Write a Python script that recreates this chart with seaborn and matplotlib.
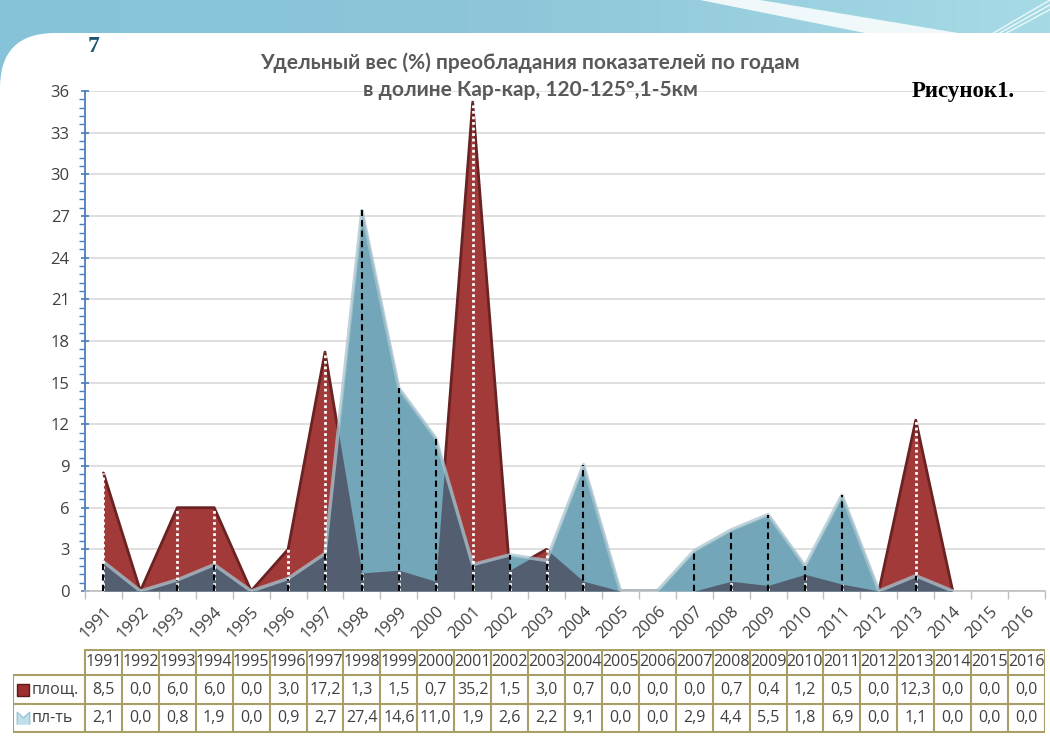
import numpy as np
import pandas as pd
import matplotlib
matplotlib.use("Agg")
import matplotlib.pyplot as plt
from matplotlib.patches import FancyBboxPatch, Polygon
import seaborn as sns

years = [str(y) for y in range(1991, 2017)]
ploshch = [8.5, 0.0, 6.0, 6.0, 0.0, 3.0, 17.2, 1.3, 1.5, 0.7, 35.2, 1.5, 3.0,
           0.7, 0.0, 0.0, 0.0, 0.7, 0.4, 1.2, 0.5, 0.0, 12.3, 0.0, 0.0, 0.0]
pl_t = [2.1, 0.0, 0.8, 1.9, 0.0, 0.9, 2.7, 27.4, 14.6, 11.0, 1.9, 2.6, 2.2,
        9.1, 0.0, 0.0, 2.9, 4.4, 5.5, 1.8, 6.9, 0.0, 1.1, 0.0, 0.0, 0.0]
row_labels = ["площ.", "пл-ть"]
title = "Удельный вес (%) преобладания показателей по годам\nв долине Кар-кар, 120-125°,1-5км"

df = pd.DataFrame({"year": years, "x": np.arange(len(years)),
                   "ploshch": ploshch, "pl_t": pl_t})


def edge_only(vals):
    # hide runs of zeros that are not next to a non-zero point
    v = np.array(vals, dtype=float)
    out = v.copy()
    for i in range(len(v)):
        nb = [v[j] for j in (i - 1, i + 1) if 0 <= j < len(v)]
        if v[i] == 0 and all(n == 0 for n in nb):
            out[i] = np.nan
    return out


df["ploshch_line"] = edge_only(ploshch)
df["pl_t_line"] = edge_only(pl_t)

sns.set_theme(style="white")
plt.rcParams["font.family"] = ["Open Sans", "DejaVu Sans"]

W, H = 1050, 736
fig = plt.figure(figsize=(W / 100, H / 100), dpi=100)


def fx(px):
    return px / W


def fy(py):
    return 1 - py / H


# slide background
bg = fig.add_axes([0, 0, 1, 1], zorder=-10)
bg.set_xlim(0, W)
bg.set_ylim(H, 0)
bg.axis("off")
grad = np.linspace(0, 1, 256).reshape(1, -1)
bg.imshow(grad, extent=[0, W, 120, 0], cmap=matplotlib.colors.LinearSegmentedColormap.from_list(
    "sky", ["#86c3d8", "#8fc6d9", "#a6dbe6"]), aspect="auto")
bg.add_patch(Polygon([[700, 0], [760, 0], [1000, 40], [900, 40]], closed=True,
                     color="white", alpha=0.85, lw=0))
for off in (0, 8, 16):
    bg.plot([930 + off, 1050], [70 - off * 0.3, 0 + off * 0.6], color="white", lw=1, alpha=0.8)
bg.add_patch(FancyBboxPatch((0, 33), W + 60, H, boxstyle="round,pad=0,rounding_size=55",
                            fc="white", ec="none"))

# main chart
ax = fig.add_axes([fx(85), fy(591), fx(1045) - fx(85), fy(91) - fy(591)])
ax.patch.set_alpha(0)
x = df["x"].values
red = df["ploshch"].values
blue = df["pl_t"].values

# overlap of the two areas, following the straight segments between years
xs = np.linspace(x[0], x[-1], 2501)
low = np.minimum(np.interp(xs, x, red), np.interp(xs, x, blue))

ax.fill_between(x, 0, red, color="#a13a39", lw=0, zorder=2)
sns.lineplot(data=df, x="x", y="ploshch_line", ax=ax, color="#6b2222", lw=2, zorder=2.5)
ax.fill_between(x, 0, blue, color="#72a6b8", lw=0, zorder=3)
ax.fill_between(xs, 0, low, color="#535e70", lw=0, zorder=4)
sns.lineplot(data=df, x="x", y="pl_t_line", ax=ax, color="#a9c4cf", lw=2.5, alpha=0.75, zorder=6)

for xi, r, b in zip(x, red, blue):
    if r > 0:
        ax.plot([xi, xi], [0, r], color="white", lw=2, ls=(0, (1, 1)), zorder=7)
    if b > 0:
        ax.plot([xi, xi], [0, b], color="black", lw=1.5, ls=(0, (3, 2)), zorder=8)

ax.set_xlim(-0.5, len(years) - 0.5)
ax.set_ylim(0, 36)
ax.set_yticks(np.arange(0, 37, 3))
ax.set_yticks(np.arange(0, 36.01, 0.6), minor=True)
ax.set_xticks(x)
ax.set_xticklabels(years, rotation=45, ha="right", rotation_mode="anchor",
                   fontsize=12, color="#404040")
ax.set_xticks(np.arange(-0.5, len(years), 1), minor=True)
ax.tick_params(axis="x", which="major", length=0, pad=9)
ax.tick_params(axis="x", which="minor", length=6, color="#bfbfbf", width=1, bottom=True)
ax.tick_params(axis="y", which="major", length=6, color="#4a7ebb", width=1.2,
               labelsize=12, labelcolor="#404040", left=True, direction="inout", pad=8)
ax.tick_params(axis="y", which="minor", length=4, color="#4a7ebb", width=1, left=True)
ax.set_xlabel("")
ax.set_ylabel("")
ax.yaxis.grid(True, color="#d9d9d9", lw=1.2)
ax.set_axisbelow(True)
for s in ("top", "right"):
    ax.spines[s].set_visible(False)
ax.spines["left"].set_color("#4a7ebb")
ax.spines["left"].set_linewidth(1.3)
ax.spines["bottom"].set_color("#bfbfbf")
ax.spines["bottom"].set_linewidth(1.2)

# data table below the axis
unit = (1045 - 85) / len(years)
left_edge = -0.5 - (85 - 13) / unit
tax = fig.add_axes([fx(13), fy(733), fx(1045) - fx(13), fy(649) - fy(733)])
tax.set_xlim(left_edge, len(years) - 0.5)
tax.set_ylim(733, 649)
tax.axis("off")
lc = "#a89f66"
rows_y = [650, 675, 704, 732]
tax.plot([-0.5, len(years) - 0.5], [rows_y[0]] * 2, color=lc, lw=1.5)
for ry in rows_y[1:]:
    tax.plot([left_edge, len(years) - 0.5], [ry] * 2, color=lc, lw=1.5)
for bx in np.arange(-0.5, len(years), 1):
    tax.plot([bx, bx], [rows_y[0], rows_y[-1]], color=lc, lw=1.5)
tax.plot([left_edge, left_edge], [rows_y[1], rows_y[-1]], color=lc, lw=1.5)

tfont = dict(fontsize=11.5, color="#404040", ha="center", va="center",
             family=["Liberation Sans Narrow", "Open Sans", "DejaVu Sans"])
for xi, yr, r, b in zip(x, years, red, blue):
    tax.text(xi, (rows_y[0] + rows_y[1]) / 2, yr, **tfont)
    tax.text(xi, (rows_y[1] + rows_y[2]) / 2, f"{r:.1f}".replace(".", ","), **tfont)
    tax.text(xi, (rows_y[2] + rows_y[3]) / 2, f"{b:.1f}".replace(".", ","), **tfont)

mx = left_edge + 10 / unit
tax.plot(mx, (rows_y[1] + rows_y[2]) / 2, marker="s", ms=8, color="#9e2f2f",
         mec="#5e1a1a")
tax.plot(mx, (rows_y[2] + rows_y[3]) / 2, marker=[(-1, -1), (-1, 1), (0, 0.1), (1, 1), (1, -1)],
         ms=9, color="#bfe0ea", mec="#9cc8d6")
for i, lab in enumerate(row_labels):
    tax.text(left_edge + 19 / unit, (rows_y[i + 1] + rows_y[i + 2]) / 2, lab,
             fontsize=11.5, color="#404040", ha="left", va="center")

# texts
fig.text(fx(530), fy(76), title, ha="center", va="center", fontsize=15,
         fontweight="bold", color="#595959", linespacing=1.45,
         family=["Lato", "DejaVu Sans"])
fig.text(fx(88), fy(46), "7", fontsize=17, fontweight="bold", color="#1d5470",
         family=["Liberation Serif", "DejaVu Serif"], ha="left", va="center")
fig.text(fx(963), fy(92), "Рисунок1.", fontsize=16.5, fontweight="bold", color="black",
         family=["Liberation Serif", "DejaVu Serif"], ha="center", va="center")

fig.savefig("out.png", dpi=100)
